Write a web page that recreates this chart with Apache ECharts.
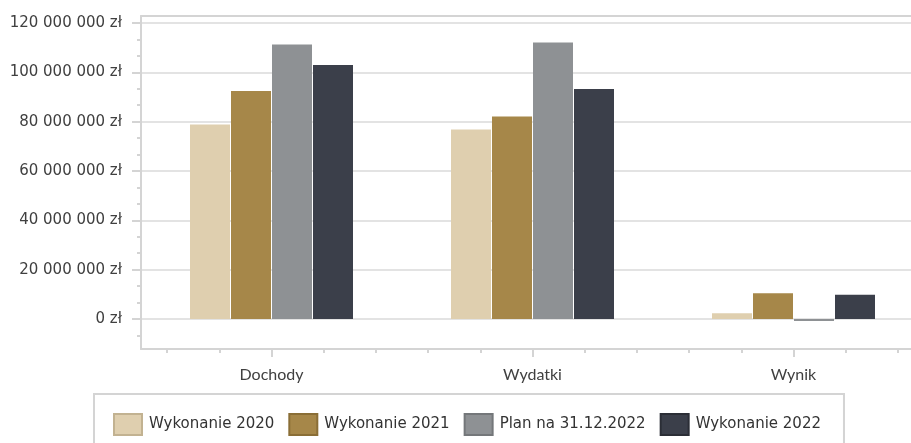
<!DOCTYPE html>
<html><head><meta charset="utf-8">
<script src="https://cdn.jsdelivr.net/npm/echarts@6/dist/echarts.min.js"></script>
<style>html,body{margin:0;padding:0;background:#fff}#c{width:911px;height:443px}</style>
</head><body><div id="c"></div>
<script>
const categories = ['Dochody', 'Wydatki', 'Wynik'];
const seriesNames = ['Wykonanie 2020', 'Wykonanie 2021', 'Plan na 31.12.2022', 'Wykonanie 2022'];
const wykonanie2020 = [78.9e6, 76.8e6, 2.3e6];
const wykonanie2021 = [92.4e6, 82.1e6, 10.4e6];
const plan2022 = [111.3e6, 112.1e6, -0.8e6];
const wykonanie2022 = [103.0e6, 93.2e6, 9.8e6];
const yTickValues = [0, 20e6, 40e6, 60e6, 80e6, 100e6, 120e6];
const xMajorTicks = [0, 1, 2];

const colors = ['#dfcfaf', '#a68749', '#8e9194', '#3b3f4a'];
const iconBorders = ['#c2b291', '#8a6e36', '#74777a', '#2b2e36'];
const allData = [wykonanie2020, wykonanie2021, plan2022, wykonanie2022];

const yMin = -12.15e6, yMax = 122.83e6;
const yMinor = [];
for (let i = -1; i < yTickValues.length - 1; i++) {
  const base = i < 0 ? -20e6 : yTickValues[i];
  [1, 2].forEach(k => {
    const v = base + k * 20e6 / 3;
    if (v > yMin && v < yMax) yMinor.push(v);
  });
}
const xMinor = [];
for (let k = -2; k <= 12; k++) {
  if (k % 5 !== 0) xMinor.push(k / 5);
}

const axisColor = '#d4d4d4';
const fmt = v => String(Math.round(v)).replace(/\B(?=(\d{3})+(?!\d))/g, ' ') + ' zł';

const chart = echarts.init(document.getElementById('c'), null, {renderer: 'canvas'});
chart.setOption({
  animation: false,
  backgroundColor: '#ffffff',
  grid: {left: 141, top: 16, width: 783, height: 333, containLabel: false, outerBoundsMode: 'none'},
  legend: {
    left: 94, top: 394, padding: [19, 23, 19, 19],
    borderColor: axisColor, borderWidth: 2,
    itemWidth: 28, itemHeight: 21, itemGap: 14, icon: 'rect',
    textStyle: {fontFamily: 'DejaVu Sans', fontSize: 15, color: '#333333', padding: [0, 0, 0, 2]},
    data: seriesNames.map((n, i) => ({name: n, itemStyle: {color: colors[i], borderColor: iconBorders[i], borderWidth: 2}}))
  },
  xAxis: [
    {type: 'category', data: categories, position: 'bottom',
     axisLine: {show: true, onZero: false, lineStyle: {color: axisColor, width: 2}},
     axisTick: {show: false},
     axisLabel: {margin: 18, fontFamily: 'Lato', fontSize: 16, color: '#404040'},
     splitLine: {show: false}},
    {type: 'value', min: -0.5, max: 2.5, position: 'bottom',
     axisLine: {show: false, onZero: false},
     axisTick: {show: true, customValues: xMajorTicks, length: 8, lineStyle: {color: axisColor, width: 2}},
     axisLabel: {show: false}, splitLine: {show: false}},
    {type: 'value', min: -0.5, max: 2.5, position: 'bottom',
     axisLine: {show: false, onZero: false},
     axisTick: {show: true, customValues: xMinor, length: 4, lineStyle: {color: axisColor, width: 2}},
     axisLabel: {show: false}, splitLine: {show: false}},
    {type: 'value', min: 0, max: 1, position: 'top',
     axisLine: {show: true, onZero: false, lineStyle: {color: axisColor, width: 2}},
     axisTick: {show: false}, axisLabel: {show: false}, splitLine: {show: false}}
  ],
  yAxis: [
    {type: 'value', min: yMin, max: yMax, position: 'left',
     axisLine: {show: true, onZero: false, lineStyle: {color: axisColor, width: 2}},
     axisTick: {show: true, customValues: yTickValues, length: 9, lineStyle: {color: axisColor, width: 2}},
     axisLabel: {customValues: yTickValues, formatter: fmt, margin: 19, fontFamily: 'DejaVu Sans', fontSize: 15, color: '#404040'},
     splitLine: {show: true, lineStyle: {color: '#dadada', width: 1.5}}},
    {type: 'value', min: yMin, max: yMax, position: 'left',
     axisLine: {show: false, onZero: false},
     axisTick: {show: true, customValues: yMinor, length: 4, lineStyle: {color: axisColor, width: 2}},
     axisLabel: {show: false}, splitLine: {show: false}}
  ],
  series: seriesNames.map((n, i) => ({
    name: n, type: 'bar', xAxisIndex: 0, yAxisIndex: 0,
    data: allData[i], barWidth: 40, barGap: '2.5%',
    itemStyle: {color: colors[i]}
  }))
});
</script></body></html>
